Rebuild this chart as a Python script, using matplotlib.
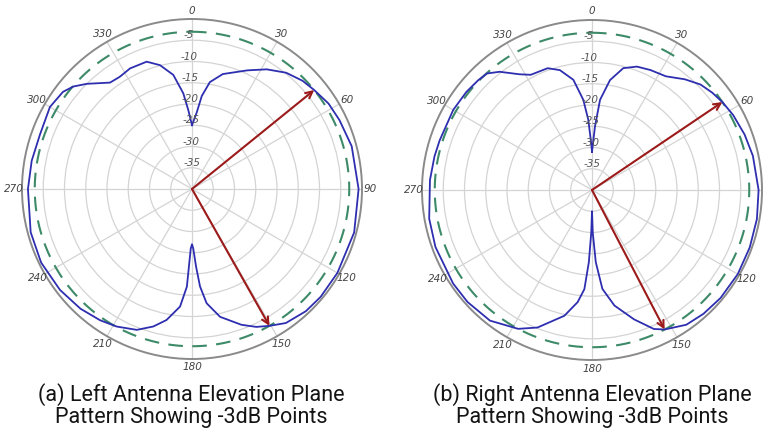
import numpy as np
import matplotlib
matplotlib.use('Agg')
import matplotlib.pyplot as plt

# 방사 패턴 (각도[deg], 이득[dB])
left_angle = [0, 3.5, 6, 9.5, 15, 25, 32, 39, 45.6, 51, 58, 65, 75, 90, 105, 120, 130, 137, 145,
              150.5, 155, 160, 167.6, 172.7, 175.3, 177, 178.8, 180, 181.2, 183, 185.8,
              191, 195.7, 201.4, 208.7, 215, 223, 232.6, 244, 255, 270, 280, 289.6, 300, 307,
              310.8, 315, 322.4, 327.3, 332.8, 340.4, 345.5, 350.7, 354.8, 357.3, 360]
left_db = [-25, -22, -18, -14.5, -12, -9.2, -6.8, -4.8, -3.6, -3.0, -2.1, -1.7, -1.1, -0.8, -0.5, -0.5, -0.5, -0.7, -1.5,
           -3.0, -4.2, -6.0, -9.2, -12.9, -17, -21.7, -26, -27, -26, -17, -12.2,
           -8.6, -6.4, -4.4, -3.1, -2.3, -1.5, -0.9, -0.5, -0.7, -1.4, -1.7, -2.0, -1.4, -2.0,
           -3.1, -5.0, -8.4, -8.6, -8.1, -8.2, -9.9, -12.8, -17.4, -21.4, -25]

right_angle = [0, 2.7, 5.1, 9.3, 14.4, 20, 26, 33, 40, 45.8, 51, 56, 62, 70, 78, 90, 100, 110,
               120, 130, 138, 145, 152.5, 156, 162, 169, 174, 177, 179, 180, 181, 182.5, 184.4, 187.3,
               192.4, 201.6, 208, 218, 228, 236, 250, 260, 273.5, 282, 288, 300, 308, 314, 318,
               322, 328, 332, 340, 345, 350.4, 354.5, 357, 359, 360]
right_db = [-31, -25, -18.7, -13.8, -10.4, -9.1, -8.6, -8.1, -6.0, -4.4, -3.6, -3.0, -2.4, -1.8, -1.3, -0.8, -0.6, -0.5,
            -0.4, -0.5, -0.8, -1.3, -3.0, -4.2, -8.0, -12.3, -16.6, -23, -30, -35, -30, -23, -16.6, -13.4,
            -9.7, -5.2, -3.0, -1.0, -0.6, -0.6, -0.8, -1.1, -1.8, -2.1, -2.3, -2.3, -2.5, -2.8, -3.1,
            -4.7, -7.9, -9.3, -9.5, -10.8, -13.7, -18.7, -23.5, -29, -31]

# -3dB 지점 화살표 각도
left_arrows = [51, 150.5]
right_arrows = [56, 152.5]

ring_levels = [-35, -30, -25, -20, -15, -10, -5]
angle_ticks = list(range(0, 360, 30))
half_power = -3
r_min, r_max = -40, 0

captions = ["(a) Left Antenna Elevation Plane\nPattern Showing -3dB Points",
            "(b) Right Antenna Elevation Plane\nPattern Showing -3dB Points"]


def draw_pattern(ax, angles, gains, arrows, skip_labels=()):
    ax.set_theta_zero_location('N')
    ax.set_theta_direction(-1)
    ax.set_ylim(r_min, r_max)
    ax.set_rgrids(ring_levels, labels=[])
    ax.set_thetagrids(angle_ticks, labels=[])
    ax.grid(True, color='#d4d4d4', lw=0.9)
    ax.spines['polar'].set_color('#8a8a8a')
    ax.spines['polar'].set_linewidth(1.4)

    th = np.linspace(0, 2 * np.pi, 400)
    ax.plot(th, np.full_like(th, half_power), color='#3d8a68', lw=1.5,
            dashes=(7, 4.5))
    ax.plot(np.radians(angles), gains, color='#2e2eb0', lw=1.3)

    for a in arrows:
        ax.annotate('', xy=(np.radians(a), half_power), xytext=(0, r_min),
                    arrowprops=dict(arrowstyle='->', color='#9c1a1a', lw=1.5,
                                    mutation_scale=12, shrinkA=0, shrinkB=0))

    for lv in ring_levels:
        ax.text(np.radians(-1.2), lv, str(lv), ha='center', va='bottom',
                fontsize=7.5, style='italic', color='#555555')
    for a in angle_ticks:
        if a in skip_labels:
            continue
        ax.text(np.radians(a), 2.0, str(a), ha='center', va='center',
                fontsize=7.5, style='italic', color='#444444', clip_on=False)


fig = plt.figure(figsize=(7.68, 4.33), dpi=100)
ax_l = fig.add_axes([22 / 768, 74 / 433, 340 / 768, 340 / 433], projection='polar')
ax_r = fig.add_axes([422 / 768, 73 / 433, 340 / 768, 340 / 433], projection='polar')

draw_pattern(ax_l, left_angle, left_db, left_arrows)
# 오른쪽 그림의 90 라벨은 캔버스 밖으로 나감
draw_pattern(ax_r, right_angle, right_db, right_arrows, skip_labels=(90,))

for xc, cap in zip([191 / 768, 592 / 768], captions):
    fig.text(xc, 0.064, cap, ha='center', va='center', fontsize=15.5,
             family='Roboto', color='#141414', linespacing=1.08)

fig.savefig('out.png', dpi=100)
